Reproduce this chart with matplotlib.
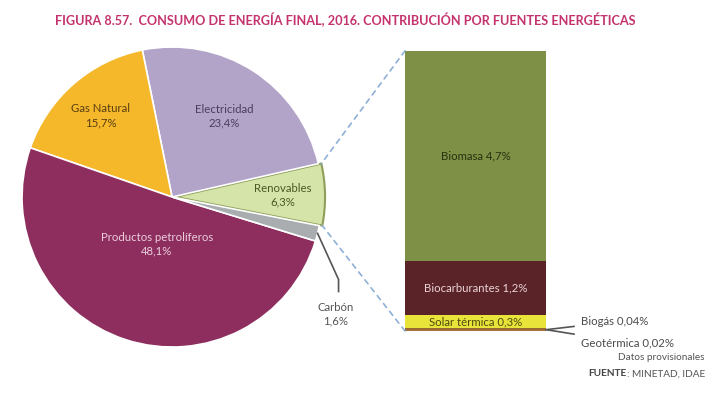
import numpy as np
import matplotlib.pyplot as plt
from matplotlib.patches import ConnectionPatch

plt.rcParams['font.family'] = ['Lato', 'DejaVu Sans']

# consumo de energia final 2016 (%)
fuentes = ['Renovables', 'Electricidad', 'Gas Natural', 'Productos petrolíferos', 'Carbón']
valores = [6.3, 23.4, 15.7, 48.1, 1.6]
etiquetas = ['6,3%', '23,4%', '15,7%', '48,1%', '1,6%']
colores = ['#D5E4A8', '#B2A4C9', '#F5B82B', '#8E2E5E', '#A9ADB0']
color_txt = ['#4B5A25', '#4A3D5C', '#5A3E10', '#EBCFDD', '#555555']
dist_txt = [0.72, 0.64, 0.72, 0.33, 0]

# desglose renovables (%), de abajo a arriba
renov = ['Geotérmica', 'Biogás', 'Solar térmica', 'Biocarburantes', 'Biomasa']
renov_val = [0.02, 0.04, 0.3, 1.2, 4.7]
renov_lab = ['0,02%', '0,04%', '0,3%', '1,2%', '4,7%']
renov_col = ['#A8753A', '#9A6A35', '#E8E43A', '#5A2327', '#7D9046']
renov_txt = [None, None, '#4E4A10', '#EBD3D8', '#26330E']

fs = 8.2

fig = plt.figure(figsize=(7.2, 3.98), dpi=100)
ax = fig.add_axes([0.0306, 0.128, 0.4167, 0.754])
ax2 = fig.add_axes([0.5625, 0.1683, 0.196, 0.704])

explode = [0.02, 0, 0, 0, 0]
wedges, _ = ax.pie(valores, colors=colores, startangle=-11, counterclock=True,
                   explode=explode, radius=1,
                   wedgeprops=dict(edgecolor='white', linewidth=1.2))
wedges[0].set_edgecolor('#8E9E5A')
wedges[0].set_linewidth(1.5)
ax.set_xlim(-1, 1)
ax.set_ylim(-1, 1)
ax.set_aspect('equal')

for i, w in enumerate(wedges[:4]):
    ang = np.deg2rad((w.theta1 + w.theta2) / 2)
    d = dist_txt[i] + explode[i]
    ax.text(d * np.cos(ang), d * np.sin(ang), fuentes[i] + '\n' + etiquetas[i],
            ha='center', va='center', fontsize=fs, color=color_txt[i], linespacing=1.3)

# carbon: linea guia
wc = wedges[4]
ang = np.deg2rad((wc.theta1 + wc.theta2) / 2)
x0, y0 = np.cos(ang), np.sin(ang)
ax.plot([x0, 1.11, 1.11], [y0, -0.55, -0.63], color='#555555', lw=1.2, clip_on=False)
ax.text(1.09, -0.78, fuentes[4] + '\n' + etiquetas[4], ha='center', va='center',
        fontsize=fs, color='#555555', linespacing=1.3)

# barra apilada
total = sum(renov_val)
bottom = 0
for i in range(len(renov)):
    ax2.bar(0, renov_val[i], width=1, bottom=bottom, color=renov_col[i], edgecolor='none')
    if renov_txt[i]:
        ax2.text(0, bottom + renov_val[i] / 2, renov[i] + ' ' + renov_lab[i],
                 ha='center', va='center', fontsize=fs, color=renov_txt[i])
    bottom += renov_val[i]
ax2.set_xlim(-0.5, 0.5)
ax2.set_ylim(0, total)
ax2.axis('off')

ax2.annotate(renov[1] + ' ' + renov_lab[1], xy=(0.5, 0.03), xytext=(35, 8),
             textcoords='offset pixels', fontsize=fs, color='#4A4A4A', va='center',
             arrowprops=dict(arrowstyle='-', color='#555555', lw=1.2, shrinkA=3, shrinkB=0))
ax2.annotate(renov[0] + ' ' + renov_lab[0], xy=(0.5, 0.03), xytext=(35, -13),
             textcoords='offset pixels', fontsize=fs, color='#4A4A4A', va='center',
             arrowprops=dict(arrowstyle='-', color='#555555', lw=1.2, shrinkA=3, shrinkB=0))

# lineas de union
w = wedges[0]
cx, cy = w.center
r = w.r
for th, yb in [(w.theta2, total), (w.theta1, 0)]:
    t = np.deg2rad(th)
    con = ConnectionPatch(xyA=(-0.5, yb), coordsA=ax2.transData,
                          xyB=(cx + r * np.cos(t), cy + r * np.sin(t)), coordsB=ax.transData,
                          color='#8DB0D6', lw=1.2, linestyle=(0, (3, 3)))
    fig.add_artist(con)

fig.text(345 / 720, 1 - 20 / 398, 'FIGURA 8.57.  CONSUMO DE ENERGÍA FINAL, 2016. CONTRIBUCIÓN POR FUENTES ENERGÉTICAS',
         ha='center', va='center', fontsize=9.1, fontweight='bold', color='#C4336E')
fig.text(705 / 720, 1 - 358 / 398, 'Datos provisionales', ha='right', va='center',
         fontsize=7.2, color='#555555')
t = fig.text(705 / 720, 1 - 374 / 398, ': MINETAD, IDAE', ha='right', va='center',
             fontsize=7.2, color='#555555')
ax.annotate('FUENTE', xy=(0, 0.5), xycoords=t, ha='right', va='center',
            fontsize=7.2, fontweight='bold', color='#444444')

fig.savefig('out.png', dpi=100)
